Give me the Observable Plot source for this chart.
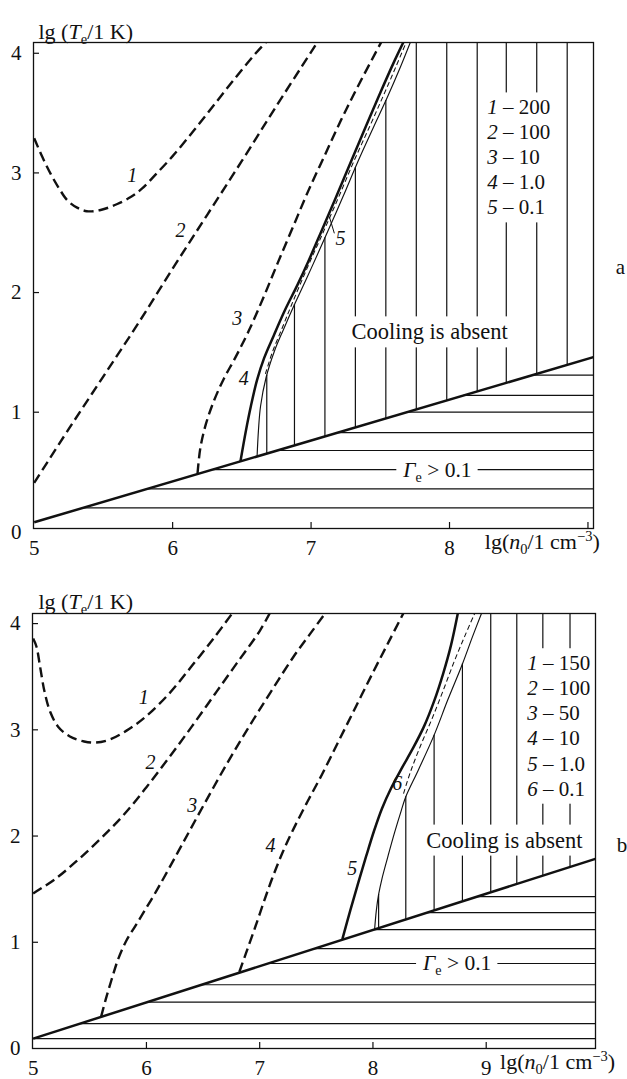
<!DOCTYPE html>
<html>
<head>
<meta charset="utf-8">
<script src="https://cdn.jsdelivr.net/npm/d3@7"></script>
<script src="https://cdn.jsdelivr.net/npm/@observablehq/plot@0.6"></script>
<style>
html, body { margin: 0; padding: 0; background: #fff; }
#chart svg { display: block; }
</style>
</head>
<body>
<div id="chart"></div>
<script>
// ---------------- Panel a data ----------------
const aXTicks = [6, 7, 8, 9];
const aXTickLabels = [5, 6, 7, 8];
const aYTicks = [1, 2, 3, 4];
const aYTickLabels = [0, 1, 2, 3, 4];
const aLegend = ["*1* – 200", "*2* – 100", "*3* – 10", "*4* – 1.0", "*5* – 0.1"];
const aBoundaryX = [5.0, 9.04];
const aBoundaryY = [0.08, 1.46];
const aC1X = [5.0, 5.06, 5.12, 5.18, 5.24, 5.31, 5.38, 5.48, 5.6, 5.7, 5.78, 5.88, 6.0, 6.15, 6.3, 6.45, 6.6, 6.68];
const aC1Y = [3.29, 3.13, 2.99, 2.87, 2.77, 2.71, 2.68, 2.69, 2.74, 2.8, 2.87, 2.99, 3.14, 3.35, 3.57, 3.79, 4.0, 4.1];
const aC2X = [5.0, 5.25, 5.5, 5.75, 6.0, 6.25, 6.5, 6.75, 7.05];
const aC2Y = [0.41, 0.86, 1.3, 1.74, 2.2, 2.65, 3.1, 3.56, 4.1];
const aC3X = [6.18, 6.2, 6.24, 6.3, 6.37, 6.45, 6.55, 6.66, 6.76, 6.87, 6.98, 7.1, 7.22, 7.35, 7.51];
const aC3Y = [0.49, 0.7, 0.9, 1.1, 1.28, 1.45, 1.68, 1.97, 2.25, 2.55, 2.85, 3.15, 3.45, 3.75, 4.1];
const aC4X = [6.49, 6.53, 6.565, 6.61, 6.66, 6.73, 6.81, 6.9, 6.98, 7.07, 7.17, 7.29, 7.4, 7.5, 7.6, 7.67];
const aC4Y = [0.59, 0.85, 1.05, 1.27, 1.45, 1.64, 1.85, 2.06, 2.26, 2.5, 2.77, 3.1, 3.4, 3.67, 3.93, 4.1];
const aC5X = [6.61, 6.62, 6.635, 6.675, 6.735, 6.8, 6.88, 7.0, 7.12, 7.23, 7.34, 7.45, 7.55, 7.64, 7.72];
const aC5Y = [0.63, 0.85, 1.05, 1.29, 1.51, 1.69, 1.9, 2.2, 2.51, 2.8, 3.1, 3.38, 3.63, 3.87, 4.1];
const aDashX = [6.67, 6.72, 6.79, 6.86, 6.97, 7.09, 7.2, 7.31, 7.42, 7.52, 7.61, 7.69];
const aDashY = [1.32, 1.5, 1.7, 1.9, 2.2, 2.51, 2.8, 3.1, 3.38, 3.64, 3.88, 4.1];
const aLeaderX = [7.132, 7.168];
const aLeaderY = [2.634, 2.495];
const aHatchV = [6.68, 6.88, 7.1, 7.32, 7.54, 7.76, 7.98, 8.2, 8.41, 8.63, 8.85];
const aHatchH = [0.2, 0.36, 0.52, 0.68, 0.83, 1.0, 1.14, 1.31];

// ---------------- Panel b data ----------------
const bXTicks = [6, 7, 8, 9];
const bXTickLabels = [5, 6, 7, 8, 9];
const bYTicks = [1, 2, 3, 4];
const bYTickLabels = [0, 1, 2, 3, 4];
const bLegend = ["*1* – 150", "*2* – 100", "*3* – 50", "*4* – 10", "*5* – 1.0", "*6* – 0.1"];
const bBoundaryX = [5.0, 9.965];
const bBoundaryY = [0.093, 1.786];
const bC1X = [5.0, 5.03, 5.06, 5.1, 5.15, 5.22, 5.32, 5.45, 5.55, 5.68, 5.85, 6.0, 6.2, 6.4, 6.6, 6.76];
const bC1Y = [3.86, 3.78, 3.6, 3.36, 3.17, 3.03, 2.94, 2.89, 2.88, 2.91, 3.01, 3.13, 3.34, 3.6, 3.87, 4.1];
const bC2X = [5.0, 5.2, 5.4, 5.6, 5.8, 6.0, 6.2, 6.4, 6.6, 6.8, 7.0, 7.09];
const bC2Y = [1.46, 1.6, 1.78, 1.98, 2.2, 2.46, 2.74, 3.03, 3.33, 3.63, 3.93, 4.1];
const bC3X = [5.6, 5.64, 5.69, 5.75, 5.82, 5.9, 5.98, 6.07, 6.155, 6.32, 6.51, 6.71, 6.9, 7.1, 7.3, 7.45, 7.58];
const bC3Y = [0.3, 0.46, 0.64, 0.84, 1.01, 1.15, 1.29, 1.45, 1.61, 1.93, 2.3, 2.68, 3.02, 3.36, 3.69, 3.91, 4.1];
const bC4X = [6.82, 6.88, 6.95, 7.03, 7.11, 7.2, 7.3, 7.42, 7.55, 7.7, 7.85, 8.0, 8.14, 8.27];
const bC4Y = [0.72, 0.9, 1.11, 1.36, 1.6, 1.84, 2.07, 2.32, 2.58, 2.9, 3.22, 3.54, 3.83, 4.1];
const bC5X = [7.73, 7.8, 7.87, 7.94, 8.01, 8.08, 8.16, 8.25, 8.35, 8.45, 8.54, 8.62, 8.69, 8.75];
const bC5Y = [1.03, 1.3, 1.56, 1.81, 2.05, 2.26, 2.45, 2.63, 2.82, 3.03, 3.27, 3.53, 3.8, 4.1];
const bC6X = [8.015, 8.03, 8.05, 8.08, 8.13, 8.19, 8.25, 8.29, 8.4, 8.54, 8.66, 8.79, 8.88, 8.96];
const bC6Y = [1.125, 1.3, 1.45, 1.6, 1.8, 2.03, 2.24, 2.37, 2.62, 2.95, 3.28, 3.62, 3.88, 4.1];
const bDashX = [8.27, 8.33, 8.42, 8.52, 8.62, 8.72, 8.81, 8.9];
const bDashY = [2.4, 2.6, 2.85, 3.1, 3.37, 3.65, 3.88, 4.1];
const bHatchV = [8.05, 8.29, 8.54, 8.79, 9.04, 9.27, 9.5, 9.74];
const bHatchH = [0.093, 0.234, 0.437, 0.6, 0.8, 0.94, 1.12, 1.28, 1.43];

// ---------------- helpers ----------------
const INK = "#111";
const FONT = "'Liberation Serif', 'Times New Roman', serif";
const NS = "http://www.w3.org/2000/svg";

function interp(xs, ys, x) {
  if (x <= xs[0]) return ys[0];
  for (let i = 1; i < xs.length; i++) {
    if (x <= xs[i]) {
      const t = (x - xs[i - 1]) / (xs[i] - xs[i - 1]);
      return ys[i - 1] + t * (ys[i] - ys[i - 1]);
    }
  }
  return Infinity;
}

function panel(p) {
  const yTop = p.yDomain[1];
  const xRight = p.xDomain[1];
  const bnd = (x) => interp(p.bndX, p.bndY, x);
  const bndInv = (y) => interp(p.bndY, p.bndX, y);
  const top = (x) => Math.min(interp(p.edgeX, p.edgeY, x), yTop);
  const line = (xs, ys, o) => Plot.line(xs, {x: xs, y: ys, curve: "catmull-rom", stroke: INK, strokeLinecap: "butt", clip: true, ...o});
  const dashed = {strokeWidth: 2.4, strokeDasharray: "10,5"};
  const thick = {strokeWidth: 2.5};
  const thin = {strokeWidth: 1.15};
  const thinDash = {strokeWidth: 1.05, strokeDasharray: "5,3"};
  const txt = {fontFamily: FONT, fill: INK};
  const label = (t, x, y) => Plot.text([t], {x, y, text: (d) => d, fontStyle: "italic", fontSize: 20, ...txt});

  const marks = [
    Plot.ruleX(p.hatchV, {x: (d) => d, y1: (d) => bnd(d), y2: (d) => top(d), stroke: INK, strokeWidth: 1.2}),
    Plot.ruleY(p.hatchH, {y: (d) => d, x1: (d) => bndInv(d), x2: xRight, stroke: INK, strokeWidth: 1.2}),
    line(p.bndX, p.bndY, {strokeWidth: 2.5, curve: "linear"}),
  ];
  for (const c of p.dashedCurves) marks.push(line(c[0], c[1], dashed));
  for (const c of p.thickCurves) marks.push(line(c[0], c[1], thick));
  for (const c of p.thinCurves) marks.push(line(c[0], c[1], thin));
  for (const c of p.thinDashCurves) marks.push(line(c[0], c[1], thinDash));
  for (const c of p.extraLines) marks.push(line(c[0], c[1], {strokeWidth: 1.0, curve: "linear"}));
  for (const l of p.labels) marks.push(label(l[0], l[1], l[2]));
  marks.push(
    Plot.text([p.legend.join("\n")], {x: p.legendPos[0], y: p.legendPos[1], text: (d) => d, textAnchor: "start", lineHeight: p.legendLH, fontSize: 21, ...txt, ariaDescription: "box 4 3"}),
    Plot.text(["Cooling is absent"], {x: p.coolPos[0], y: p.coolPos[1], text: (d) => d, fontSize: 22.5, ...txt, ariaDescription: "box 3 3"}),
    Plot.text(["*Γ*_{e} > 0.1"], {x: p.gammaPos[0], y: p.gammaPos[1], text: (d) => d, fontSize: 21.5, ...txt, ariaDescription: "box 6 -2"}),
    Plot.text([p.panelName], {x: p.namePos[0], y: p.namePos[1], text: (d) => d, fontSize: 21, ...txt}),
    Plot.text(["lg (*T*_{e}/1 K)"], {frameAnchor: "top-left", dx: p.titleDx, dy: p.titleDy, textAnchor: "start", text: (d) => d, fontSize: 22, ...txt}),
    Plot.text(["lg(*n*_{0}/1 cm^{−3})"], {x: p.xLabelX, frameAnchor: "bottom", dy: 20, text: (d) => d, fontSize: 22, ...txt}),
    Plot.axisY(p.yTicks, {tickSize: 6, dx: 6, tickFormat: () => "", stroke: INK, strokeWidth: 1.2, label: null}),
    Plot.axisY(p.yTickLabels, {tickSize: 0, tickPadding: 12, tickFormat: (d) => String(d), fontSize: 21, fontFamily: FONT, fill: INK, label: null}),
    Plot.axisX(p.xTicks, {tickSize: 6, dy: -6, tickFormat: () => "", stroke: INK, strokeWidth: 1.2, label: null}),
    Plot.axisX(p.xTickLabels, {tickSize: 0, tickPadding: 12, tickFormat: (d) => String(d), fontSize: 21, fontFamily: FONT, fill: INK, label: null}),
    Plot.frame({stroke: INK, strokeWidth: 1.3})
  );

  return Plot.plot({
    width: 627,
    height: p.height,
    marginTop: p.margins[0], marginRight: p.margins[1], marginBottom: p.margins[2], marginLeft: p.margins[3],
    x: {domain: p.xDomain},
    y: {domain: p.yDomain},
    style: {fontFamily: FONT, fontSize: "21px", color: INK, background: "white"},
    marks
  });
}

// rich text: *italic*, _{sub}, ^{sup}
function parseRich(s) {
  const segs = [];
  let italic = false, buf = "", i = 0;
  const push = (text, mode) => { if (text) segs.push({text, italic, mode}); };
  while (i < s.length) {
    const c = s[i];
    if (c === "*") { push(buf); buf = ""; italic = !italic; i++; }
    else if ((c === "_" || c === "^") && s[i + 1] === "{") {
      push(buf); buf = "";
      const j = s.indexOf("}", i);
      push(s.slice(i + 2, j), c === "_" ? "sub" : "sup");
      i = j + 1;
    } else { buf += c; i++; }
  }
  push(buf);
  return segs;
}
function richify(svg) {
  svg.querySelectorAll("text, tspan").forEach((el) => {
    if (el.children.length) return;
    const s = el.textContent;
    if (!/\*|_\{|\^\{/.test(s)) return;
    const segs = parseRich(s);
    el.textContent = "";
    let shift = 0;
    for (const sg of segs) {
      const t = document.createElementNS(NS, "tspan");
      t.textContent = sg.text;
      if (sg.italic) t.setAttribute("font-style", "italic");
      const target = sg.mode === "sub" ? 5 : sg.mode === "sup" ? -8 : 0;
      if (sg.mode) t.setAttribute("font-size", "0.66em");
      if (target !== shift) { t.setAttribute("dy", target - shift); shift = target; }
      el.appendChild(t);
    }
  });
}
function boxify(svg) {
  svg.querySelectorAll('g[aria-description^="box"]').forEach((g) => {
    const [, px, py] = g.getAttribute("aria-description").split(" ").map(Number);
    const b = g.getBBox();
    const r = document.createElementNS(NS, "rect");
    r.setAttribute("x", b.x - px);
    r.setAttribute("y", b.y - py);
    r.setAttribute("width", b.width + 2 * px);
    r.setAttribute("height", b.height + 2 * py);
    r.setAttribute("fill", "white");
    r.setAttribute("stroke", "none");
    g.insertBefore(r, g.firstChild);
  });
}

const A = {
  height: 565, margins: [42, 34, 37, 33],
  xDomain: [4.995, 9.04], yDomain: [0.028, 4.09],
  xTicks: aXTicks, xTickLabels: aXTickLabels, yTicks: aYTicks, yTickLabels: aYTickLabels,
  bndX: aBoundaryX, bndY: aBoundaryY, edgeX: aC5X, edgeY: aC5Y,
  hatchV: aHatchV, hatchH: aHatchH,
  dashedCurves: [[aC1X, aC1Y], [aC2X, aC2Y], [aC3X, aC3Y]],
  thickCurves: [[aC4X, aC4Y]],
  thinCurves: [[aC5X, aC5Y]],
  thinDashCurves: [[aDashX, aDashY]],
  extraLines: [[aLeaderX, aLeaderY]],
  labels: [["1", 5.708, 2.978], ["2", 6.057, 2.519], ["3", 6.466, 1.781], ["4", 6.514, 1.279], ["5", 7.213, 2.449]],
  legend: aLegend, legendPos: [8.272, 3.138], legendLH: 1.19,
  coolPos: [7.856, 1.669], gammaPos: [7.913, 0.52],
  panelName: "a", namePos: [9.235, 2.21],
  titleDx: 5, titleDy: -19, xLabelX: 8.67
};
const B = {
  height: 514, margins: [48, 32, 31, 32],
  xDomain: [4.994, 9.965], yDomain: [0, 4.095],
  xTicks: bXTicks, xTickLabels: bXTickLabels, yTicks: bYTicks, yTickLabels: bYTickLabels,
  bndX: bBoundaryX, bndY: bBoundaryY, edgeX: bC6X, edgeY: bC6Y,
  hatchV: bHatchV, hatchH: bHatchH,
  dashedCurves: [[bC1X, bC1Y], [bC2X, bC2Y], [bC3X, bC3Y], [bC4X, bC4Y]],
  thickCurves: [[bC5X, bC5Y]],
  thinCurves: [[bC6X, bC6Y]],
  thinDashCurves: [[bDashX, bDashY]],
  extraLines: [],
  labels: [["1", 5.977, 3.308], ["2", 6.036, 2.696], ["3", 6.404, 2.288], ["4", 7.095, 1.911], ["5", 7.817, 1.692], ["6", 8.214, 2.492]],
  legend: bLegend, legendPos: [9.362, 3.046], legendLH: 1.195,
  coolPos: [9.16, 1.959], gammaPos: [8.744, 0.8],
  panelName: "b", namePos: [10.2, 1.91],
  titleDx: 6, titleDy: -20, xLabelX: 9.63
};

const chart = document.getElementById("chart");
for (const p of [A, B]) {
  const svg = panel(p);
  chart.appendChild(svg);
  richify(svg);
  boxify(svg);
}
</script>
</body>
</html>
